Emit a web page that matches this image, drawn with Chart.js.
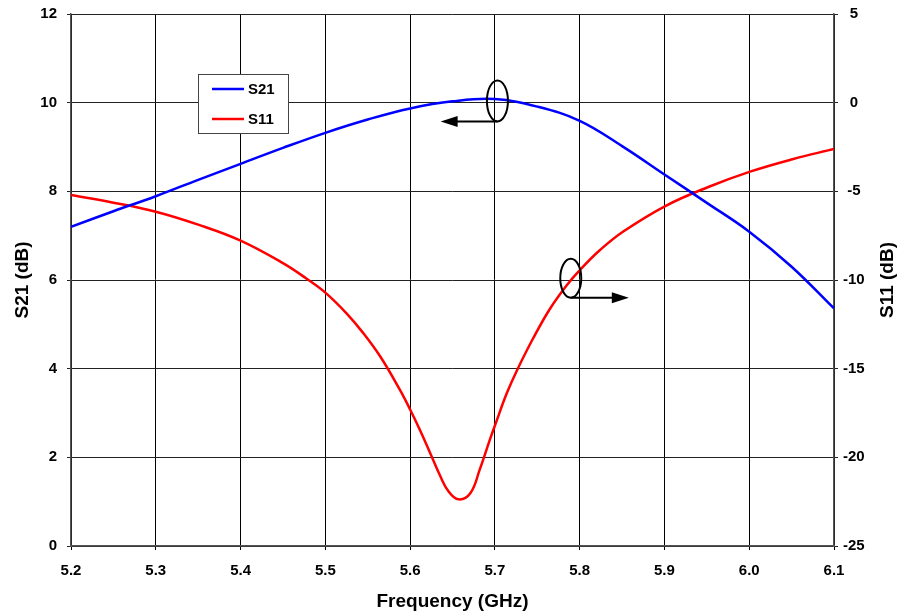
<!DOCTYPE html>
<html>
<head>
<meta charset="utf-8">
<script src="https://cdn.jsdelivr.net/npm/chart.js@4/dist/chart.umd.min.js"></script>
<style>
html,body{margin:0;padding:0;background:#fff;}
#wrap{position:relative;width:901px;height:613px;}
</style>
</head>
<body>
<div id="wrap"><canvas id="c" width="901" height="613"></canvas></div>
<script>
// ---- data ----
const freqS21 = [5.20,5.25,5.30,5.35,5.40,5.45,5.50,5.55,5.60,5.65,5.70,5.75,5.80,5.85,5.90,5.95,6.00,6.05,6.10];
const s21 =     [7.20,7.55,7.89,8.26,8.62,8.98,9.32,9.62,9.87,10.03,10.08,9.91,9.59,9.02,8.38,7.74,7.09,6.30,5.36];
const freqS11 = [5.20,5.25,5.30,5.35,5.40,5.45,5.478,5.50,5.525,5.545,5.565,5.588,5.60,5.612,5.624,5.635,5.645,5.657,5.671,5.682,5.694,5.701,5.714,5.726,5.745,5.765,5.785,5.801,5.824,5.851,5.901,5.951,6.001,6.051,6.10];
const s11 =     [-5.21,-5.64,-6.15,-6.88,-7.78,-9.05,-9.93,-10.71,-11.88,-13.01,-14.33,-16.20,-17.30,-18.50,-19.80,-21.00,-21.90,-22.37,-22.03,-20.71,-19.02,-18.08,-16.39,-15.10,-13.30,-11.62,-10.28,-9.40,-8.31,-7.28,-5.83,-4.77,-3.89,-3.19,-2.61];
const xTicks = [5.2,5.3,5.4,5.5,5.6,5.7,5.8,5.9,6.0,6.1];
const leftTicks = [0,2,4,6,8,10,12];
const rightTicks = [-25,-20,-15,-10,-5,0,5];
const seriesNames = ['S21','S11'];

const FONT = '"Liberation Sans", Arial, sans-serif';

const pts = (xs, ys) => xs.map((x,i)=>({x:x, y:ys[i]}));

const annotPlugin = {
  id:'annot',
  afterDatasetsDraw(chart){
    const ctx = chart.ctx, xs = chart.scales.x, yl = chart.scales.y, yr = chart.scales.y1;
    const ca = chart.chartArea;
    ctx.save();
    ctx.strokeStyle = '#000'; ctx.fillStyle = '#000'; ctx.lineWidth = 2;
    function ellipse(cx, cy, rx, ry){ ctx.beginPath(); ctx.ellipse(cx, cy, rx, ry, 0, 0, Math.PI*2); ctx.stroke(); }
    function arrow(x1, y, x2){
      const dir = Math.sign(x2-x1);
      ctx.beginPath(); ctx.moveTo(x1,y); ctx.lineTo(x2 - dir*14, y); ctx.stroke();
      ctx.beginPath(); ctx.moveTo(x2, y); ctx.lineTo(x2 - dir*17, y-5.5); ctx.lineTo(x2 - dir*17, y+5.5); ctx.closePath(); ctx.fill();
    }
    // S21 marker (points to left axis)
    const e1x = xs.getPixelForValue(5.703), e1y = yl.getPixelForValue(10.04);
    ellipse(e1x, e1y, 10.5, 20.5);
    arrow(e1x, e1y+20.5, xs.getPixelForValue(5.636));
    // S11 marker (points to right axis)
    const e2x = xs.getPixelForValue(5.7895), e2y = yr.getPixelForValue(-9.90);
    ellipse(e2x, e2y, 10.5, 19.5);
    arrow(e2x, e2y+19.5, xs.getPixelForValue(5.858));

    // legend
    const lx = ca.left + 127, ly = ca.top + 60, lw = 90, lh = 59;
    ctx.fillStyle = '#fff'; ctx.fillRect(lx, ly, lw, lh);
    ctx.strokeStyle = '#444'; ctx.lineWidth = 1;
    ctx.strokeRect(lx+0.5, ly+0.5, lw, lh);
    ctx.font = 'bold 15px ' + FONT; ctx.textBaseline = 'middle'; ctx.textAlign = 'left';
    chart.data.datasets.forEach((ds, i) => {
      const yy = ly + 15 + i*30;
      ctx.strokeStyle = ds.borderColor; ctx.lineWidth = 2.5;
      ctx.beginPath(); ctx.moveTo(lx+14, yy); ctx.lineTo(lx+46, yy); ctx.stroke();
      ctx.fillStyle = '#000'; ctx.fillText(seriesNames[i], lx+50, yy+1);
    });

    // right axis title (reads bottom-to-top)
    ctx.save();
    ctx.translate(888, (ca.top+ca.bottom)/2);
    ctx.rotate(-Math.PI/2);
    ctx.font = 'bold 19px ' + FONT; ctx.fillStyle = '#000'; ctx.textAlign = 'center'; ctx.textBaseline = 'middle';
    ctx.fillText('S11 (dB)', 0, 0);
    ctx.restore();
    ctx.restore();
  }
};

new Chart(document.getElementById('c'), {
  type:'line',
  data:{
    datasets:[
      {label:seriesNames[0], data:pts(freqS21, s21), yAxisID:'y', borderColor:'#0000FF', borderWidth:2.5, pointRadius:0, tension:0.4, fill:false},
      {label:seriesNames[1], data:pts(freqS11, s11), yAxisID:'y1', borderColor:'#FF0000', borderWidth:2.5, pointRadius:0, tension:0.4, fill:false}
    ]
  },
  options:{
    responsive:false, animation:false, devicePixelRatio:1,
    layout:{padding:{top:14, left:0, right:0, bottom:0}},
    plugins:{legend:{display:false}, tooltip:{enabled:false}, title:{display:false}},
    scales:{
      x:{
        type:'linear', min:5.2, max:6.1,
        afterBuildTicks(s){ s.ticks = xTicks.map(v=>({value:v})); },
        afterFit(s){ s.height = 67; },
        grid:{color:'#000', lineWidth:1, tickLength:4, drawTicks:true},
        border:{color:'#555', width:1.5},
        ticks:{color:'#000', font:{family:FONT, size:15, weight:'bold'}, padding:12, maxRotation:0, callback:(v)=>Number(v).toFixed(1)},
        title:{display:true, text:'Frequency (GHz)', color:'#000', font:{family:FONT, size:19, weight:'bold'}, padding:{top:6, bottom:0}}
      },
      y:{
        position:'left', min:0, max:12,
        afterBuildTicks(s){ s.ticks = leftTicks.map(v=>({value:v})); },
        afterFit(s){ s.width = 71; s.paddingTop = 0; s.paddingBottom = 0; },
        grid:{color:'#222', lineWidth:1, tickLength:4},
        border:{color:'#555', width:1.5},
        ticks:{color:'#000', font:{family:FONT, size:15, weight:'bold'}, padding:10},
        title:{display:true, text:'S21 (dB)', color:'#000', font:{family:FONT, size:19, weight:'bold'}, padding:{top:11,bottom:0}}
      },
      y1:{
        position:'right', min:-25, max:5,
        afterBuildTicks(s){ s.ticks = rightTicks.map(v=>({value:v})); },
        afterFit(s){ s.width = 67; s.paddingTop = 0; s.paddingBottom = 0; },
        grid:{drawOnChartArea:false, color:'#222', tickLength:4},
        border:{color:'#555', width:1.5},
        ticks:{color:'#000', font:{family:FONT, size:15, weight:'bold'}, padding:5, crossAlign:'center'}
      }
    }
  },
  plugins:[annotPlugin]
});
</script>
</body>
</html>
